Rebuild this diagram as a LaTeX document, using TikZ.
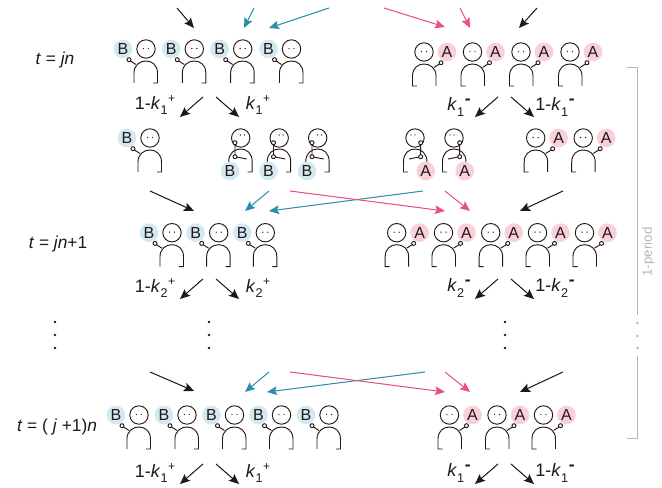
\documentclass[tikz,border=0pt]{standalone}
\usepackage{fontspec}
\setmainfont{Liberation Sans}
\usetikzlibrary{arrows.meta}
\definecolor{inkc}{HTML}{231815}
\definecolor{tealc}{HTML}{2A8FAD}
\definecolor{rosec}{HTML}{E8517A}
\definecolor{bluebg}{HTML}{D3E9F2}
\definecolor{rosebg}{HTML}{F9D0DA}
\definecolor{periodc}{HTML}{B5B5B5}
\tikzset{
  x=0.75pt, y=-0.75pt,
  headc/.style={circle,draw=inkc,line width=0.7pt,minimum size=13.8pt,inner sep=0pt},
  badge/.style={circle,minimum size=14pt,inner sep=0pt,text=inkc,font=\fontsize{12}{14}\selectfont},
  badgeB/.style={badge,fill=bluebg},
  badgeA/.style={badge,fill=rosebg},
  limb/.style={draw=inkc,line width=0.7pt},
  handc/.style={limb,fill=white},
  tipped/.style={line width=0.75pt,-{Stealth[length=7.5pt,width=6.5pt,inset=1.4pt]}},
  blackarrow/.style={tipped,draw=inkc,fill=inkc},
  tealarrow/.style={tipped,draw=tealc,fill=tealc},
  rosearrow/.style={tipped,draw=rosec,fill=rosec},
  ratelabel/.style={text=inkc,font=\fontsize{13.5}{16}\selectfont,inner sep=0pt},
  timelabel/.style={text=inkc,font=\fontsize{13}{15}\selectfont,inner sep=0pt},
  vdot/.style={circle,fill=inkc,minimum size=2pt,inner sep=0pt},
  gdot/.style={circle,fill=periodc,minimum size=2.2pt,inner sep=0pt},
  periodline/.style={draw=periodc,line width=0.7pt},
}
% body, eyes and raised hand of a standing figure; mirror with xscale=-1
\newcommand{\standbody}{%
  \draw[limb] (-12,34) -- (-12,24) .. controls (-12,16) and (-6,12) .. (0,12)
    .. controls (6,12) and (11.5,16) .. (11.5,24) -- (11.5,34) -- (7,34);
  \draw[limb] (-10,15.5) -- (-15.5,12);
  \draw[handc] (-17,10.7) circle[radius=1.5pt];
  \fill[inkc] (-2.5,-0.5) circle[radius=0.55pt] (2.5,-0.5) circle[radius=0.55pt];
}
% the same figure with its hand at the mouth
\newcommand{\thinkbody}{%
  \draw[limb] (-12,34) -- (-12,24) .. controls (-12,15) and (-6,11) .. (0,11)
    .. controls (6,11) and (11.5,15) .. (11.5,24) -- (11.5,34) -- (7,34);
  \draw[limb] (-5.7,4.7) -- (-5.7,18.7) -- (6,21);
  \draw[handc] (-5.7,4.7) circle[radius=1.5pt];
  \draw[handc] (-5.7,18.7) circle[radius=1.5pt];
  \fill[inkc] (0,-3) circle[radius=0.55pt] (4,-3) circle[radius=0.55pt];
}
% #1 name, #2 x, #3 y of the head centre
\newcommand{\personB}[3]{%
  \begin{scope}[shift={(#2,#3)}]\standbody\end{scope}
  \node[headc] (#1h) at (#2,#3) {};
  \node[badgeB] (#1b) at (#2-23,#3) {B};
}
\newcommand{\personA}[3]{%
  \begin{scope}[shift={(#2,#3)},xscale=-1]\standbody\end{scope}
  \node[headc] (#1h) at (#2,#3) {};
  \node[badgeA] (#1b) at (#2+23,#3) {A};
}
\newcommand{\thinkerB}[3]{%
  \node[headc] (#1h) at (#2,#3) {};
  \begin{scope}[shift={(#2,#3)}]\thinkbody\end{scope}
  \node[badgeB] (#1b) at (#2-10.7,#3+33) {B};
}
\newcommand{\thinkerA}[3]{%
  \node[headc] (#1h) at (#2,#3) {};
  \begin{scope}[shift={(#2,#3)},xscale=-1]\thinkbody\end{scope}
  \node[badgeA] (#1b) at (#2+10.7,#3+33) {A};
}
% #1 style, #2 name, #3 start, #4 end
\newcommand{\link}[4]{%
  \coordinate (#2s) at (#3);
  \coordinate (#2e) at (#4);
  \draw[#1] (#2s) -- (#2e);
}
\newcommand{\rate}[2]{\textit{k}\raisebox{-4pt}{\fontsize{9.5}{10}\selectfont #1}\hspace{0.5pt}\raisebox{5pt}{\fontsize{9}{10}\selectfont #2}}
\newcommand{\minussign}{{\fontsize{13}{13}\bfseries -}}
\begin{document}
\begin{tikzpicture}
\useasboundingbox (0,0) rectangle (662,488);

% population rows
\foreach \n/\x in {a/146,b/194.3,c/242.7,d/291.5}{\personB{ra\n}{\x}{49}}
\foreach \n/\x in {a/424,b/472.5,c/521,d/570}{\personA{rb\n}{\x}{52}}
\personB{sa}{150}{138}
\foreach \n/\x in {a/240.7,b/279.2,c/317.7}{\thinkerB{sb\n}{\x}{138}}
\foreach \n/\x in {a/415,b/454}{\thinkerA{sc\n}{\x}{138}}
\foreach \n/\x in {a/535.7,b/583.2}{\personA{sd\n}{\x}{138}}
\foreach \n/\x in {a/172,b/218.7,c/265.3}{\personB{ta\n}{\x}{232.7}}
\foreach \n/\x in {a/396.7,b/443.5,c/490.7,d/537.5,e/584.5}{\personA{tb\n}{\x}{232.7}}
\foreach \n/\x in {a/139,b/187,c/234.5,d/281.5,e/329}{\personB{ua\n}{\x}{415}}
\foreach \n/\x in {a/449.5,b/497,c/543.5}{\personA{ub\n}{\x}{415}}

% inflow above each row
\link{blackarrow}{i1}{177,8}{194,28}
\link{tealarrow}{i2}{254,8}{244,28}
\link{tealarrow}{i3}{329,8}{269,28}
\link{rosearrow}{i4}{384,8}{445,27}
\link{rosearrow}{i5}{460,8}{470,28}
\link{blackarrow}{i6}{537,8}{519,28}

\link{blackarrow}{j1}{150,191}{194,211}
\link{tealarrow}{j2}{269,191}{245,211}
\link{tealarrow}{j3}{423,191}{269,211}
\link{rosearrow}{j4}{290,191}{445,211}
\link{rosearrow}{j5}{445,191}{470,211}
\link{blackarrow}{j6}{563,191}{520,211}

\link{blackarrow}{l1}{150,372}{194,391}
\link{tealarrow}{l2}{269,372}{245,392}
\link{tealarrow}{l3}{425,372}{267,392}
\link{rosearrow}{l4}{290,372}{445,392}
\link{rosearrow}{l5}{445,372}{470,392}
\link{blackarrow}{l6}{563,372}{520,392}

% outflow below each row
\foreach \r/\y in {p/97,q/279,w/464}{
  \link{blackarrow}{\r1}{203,\y}{180,\y+20}
  \link{blackarrow}{\r2}{216,\y}{239,\y+20}
  \link{blackarrow}{\r3}{498,\y}{475,\y+20}
  \link{blackarrow}{\r4}{511,\y}{534,\y+20}
}

% transition rates
\node[ratelabel] (k11) at (155,105) {1-\rate{1}{+}};
\node[ratelabel] (k12) at (258,105) {\rate{1}{+}};
\node[ratelabel] (k13) at (459,107) {\rate{1}{\minussign}};
\node[ratelabel] (k14) at (555,107) {1-\rate{1}{\minussign}};
\node[ratelabel] (k21) at (155,288) {1-\rate{2}{+}};
\node[ratelabel] (k22) at (258,288) {\rate{2}{+}};
\node[ratelabel] (k23) at (459,288) {\rate{2}{\minussign}};
\node[ratelabel] (k24) at (555,288) {1-\rate{2}{\minussign}};
\node[ratelabel] (k31) at (155,473) {1-\rate{1}{+}};
\node[ratelabel] (k32) at (258,473) {\rate{1}{+}};
\node[ratelabel] (k33) at (459,473) {\rate{1}{\minussign}};
\node[ratelabel] (k34) at (555,473) {1-\rate{1}{\minussign}};

% time labels
\node[timelabel] (t1) at (55,60) {\textit{t} = \textit{jn}};
\node[timelabel] (t2) at (58,244) {\textit{t} = \textit{jn}+1};
\node[timelabel] (t3) at (57,427) {\textit{t} = ( \textit{j} +1)\textit{n}};

% elided rows
\foreach \n/\x in {a/55,b/209,c/505}{
  \foreach \m/\y in {1/322,2/335,3/348}{\node[vdot] (e\n\m) at (\x,\y) {};}
}

% bracket marking one period
\coordinate (bt) at (627,67);
\coordinate (btc) at (637.5,67);
\coordinate (bm1) at (637.5,315);
\coordinate (bm2) at (637.5,356);
\coordinate (bbc) at (637.5,438);
\coordinate (bb) at (627,438);
\draw[periodline] (bt) -- (btc) -- (bm1);
\draw[periodline] (bm2) -- (bbc) -- (bb);
\foreach \m/\y in {1/323,2/336,3/348}{\node[gdot] (pd\m) at (637.5,\y) {};}
\node[rotate=90,text=periodc,font=\fontsize{10}{12}\selectfont,inner sep=0pt] (per) at (648.5,252) {1-period};
\end{tikzpicture}
\end{document}
